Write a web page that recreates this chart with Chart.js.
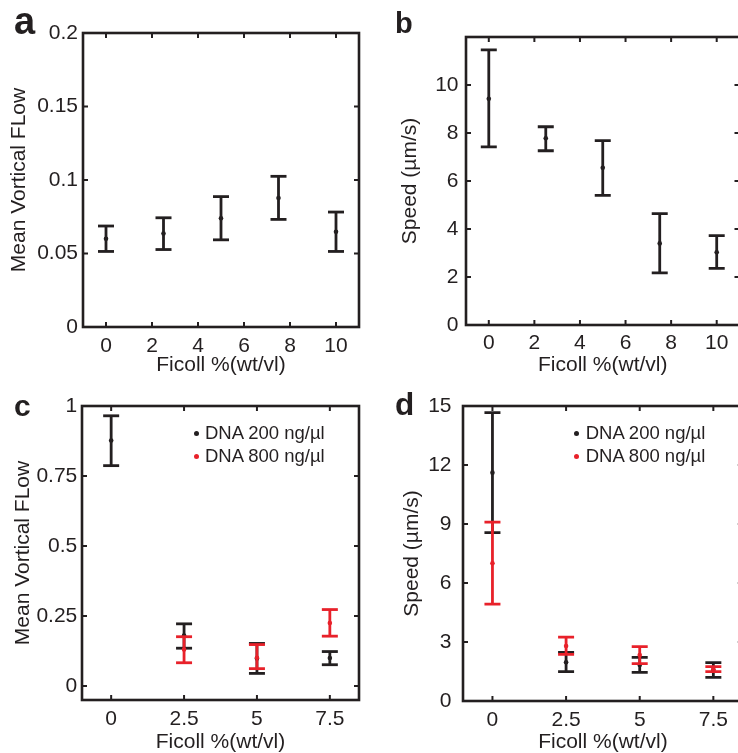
<!DOCTYPE html>
<html>
<head>
<meta charset="utf-8">
<script src="https://cdn.jsdelivr.net/npm/chart.js@4.4.1/dist/chart.umd.min.js"></script>
<style>
  html, body { margin: 0; padding: 0; background: #fff; overflow: hidden; }
  body { width: 738px; height: 753px; position: relative; font-family: 'Liberation Sans', Arial, sans-serif; color: #231f20; }
  canvas { position: absolute; }
  .tag { position: absolute; font-weight: bold; line-height: 1; }
  .key { position: absolute; font-size: 18.5px; line-height: 22.7px; white-space: nowrap; }
  .dot { position: absolute; width: 5px; height: 5px; border-radius: 50%; }
</style>
</head>
<body>
<canvas id="chartA" width="369" height="376" style="left:0;top:0"></canvas>
<canvas id="chartB" width="372" height="376" style="left:369px;top:0"></canvas>
<canvas id="chartC" width="369" height="377" style="left:0;top:376px"></canvas>
<canvas id="chartD" width="376" height="377" style="left:369px;top:376px"></canvas>

<div class="tag" style="left:14px;top:2px;font-size:38px">a</div>
<div class="tag" style="left:395px;top:9px;font-size:29px">b</div>
<div class="tag" style="left:14px;top:391px;font-size:30px">c</div>
<div class="tag" style="left:395px;top:389px;font-size:31.5px">d</div>

<div id="legendC"></div>
<div id="legendD"></div>

<script>
const INK = "#231f20";
const RED = "#e8212a";

// panel a / b : Ficoll only
const ficollAB = [0, 2.5, 5, 7.5, 10];
const flowA = [0.0600, 0.0636, 0.0739, 0.0878, 0.0648];
const flowALow = [0.0514, 0.0527, 0.0593, 0.0732, 0.0514];
const flowAHigh = [0.0687, 0.0743, 0.0887, 0.1025, 0.0782];

const speedB = [9.43, 7.78, 6.55, 3.40, 3.03];
const speedBLow = [7.42, 7.26, 5.40, 2.17, 2.36];
const speedBHigh = [11.46, 8.26, 7.68, 4.64, 3.72];

// panel c / d : Ficoll + DNA
const ficollCD = [0, 2.5, 5, 7.5];
const flowC200 = [0.877, 0.180, 0.098, 0.100];
const flowC200Low = [0.787, 0.135, 0.045, 0.076];
const flowC200High = [0.965, 0.222, 0.152, 0.123];
const flowC800 = [null, 0.130, 0.101, 0.225];
const flowC800Low = [null, 0.083, 0.062, 0.178];
const flowC800High = [null, 0.176, 0.148, 0.273];

const speedD200 = [11.61, 1.97, 1.83, 1.57];
const speedD200Low = [8.56, 1.49, 1.46, 1.20];
const speedD200High = [14.66, 2.47, 2.22, 1.95];
const speedD800 = [7.00, 2.80, 2.34, 1.62];
const speedD800Low = [4.93, 2.37, 1.90, 1.49];
const speedD800High = [9.10, 3.25, 2.76, 1.75];

const legendLabels = ["DNA 200 ng/\u00b5l", "DNA 800 ng/\u00b5l"];

// tick labels
const xTicksAB = [0, 2, 4, 6, 8, 10];
const xTicksCD = [0, 2.5, 5, 7.5];
const yTicksA = [0, 0.05, 0.1, 0.15, 0.2];
const yTicksB = [0, 2, 4, 6, 8, 10];
const yTicksC = [0, 0.25, 0.5, 0.75, 1];
const yTicksD = [0, 3, 6, 9, 12, 15];

const xTitle = "Ficoll %(wt/vl)";
const flowTitle = "Mean Vortical FLow";
const speedTitle = "Speed (\u00b5m/s)";

Chart.defaults.font.family = "'Liberation Sans', Arial, sans-serif";
Chart.defaults.color = INK;

// box round the plot plus inward ticks on all four sides
const framePlugin = {
    id: "frame",
    afterDatasetsDraw(chart) {
        const { ctx, chartArea: a, scales } = chart;
        const L = 5;
        ctx.save();
        ctx.strokeStyle = INK;
        ctx.lineWidth = 2;
        ctx.beginPath();
        scales.x.ticks.forEach(t => {
            const px = scales.x.getPixelForValue(t.value);
            ctx.moveTo(px, a.bottom); ctx.lineTo(px, a.bottom - L);
            ctx.moveTo(px, a.top); ctx.lineTo(px, a.top + L);
        });
        scales.y.ticks.forEach(t => {
            const py = scales.y.getPixelForValue(t.value);
            ctx.moveTo(a.left, py); ctx.lineTo(a.left + L, py);
            ctx.moveTo(a.right, py); ctx.lineTo(a.right - L, py);
        });
        ctx.stroke();
        ctx.lineWidth = 2.6;
        ctx.strokeRect(a.left, a.top, a.right - a.left, a.bottom - a.top);
        ctx.restore();
    }
};

function errorBars(xs, lo, hi, color) {
    const pts = [];
    xs.forEach((x, i) => {
        if (lo[i] == null) return;
        pts.push({ x: x, y: lo[i] }, { x: x, y: hi[i] }, { x: x, y: null });
    });
    return {
        data: pts,
        showLine: true,
        spanGaps: false,
        borderColor: color,
        borderWidth: 2.8,
        pointStyle: "line",
        pointRadius: 8,
        pointBorderColor: color,
        pointBorderWidth: 2.8,
    };
}

function means(xs, ys, color) {
    return {
        data: xs.map((x, i) => ({ x: x, y: ys[i] })).filter(p => p.y != null),
        showLine: false,
        pointStyle: "circle",
        pointRadius: 2.3,
        pointBorderWidth: 0,
        pointBackgroundColor: color,
    };
}

function makeChart(id, p) {
    const ctx = document.getElementById(id).getContext("2d");
    return new Chart(ctx, {
        type: "scatter",
        data: { datasets: p.datasets },
        options: {
            responsive: false,
            animation: false,
            events: [],
            layout: { autoPadding: false, padding: { top: p.top, right: p.right, left: 0, bottom: 0 } },
            plugins: { legend: { display: false }, tooltip: { enabled: false } },
            scales: {
                x: {
                    type: "linear",
                    min: p.xMin, max: p.xMax,
                    grid: { display: false, drawTicks: false },
                    border: { display: false },
                    afterBuildTicks: s => { s.ticks = p.xTicks.map(v => ({ value: v })); },
                    afterFit: s => { s.height = p.xHeight; },
                    ticks: { padding: p.xPad, maxRotation: 0, font: { size: 21 }, callback: v => String(v) },
                    title: { display: true, text: xTitle, font: { size: 21, lineHeight: 1 }, padding: { top: p.xTitlePad, bottom: 0 } },
                },
                y: {
                    type: "linear",
                    min: p.yMin, max: p.yMax,
                    grid: { display: false, drawTicks: false },
                    border: { display: false },
                    afterBuildTicks: s => { s.ticks = p.yTicks.map(v => ({ value: v })); },
                    afterFit: s => { s.width = p.yWidth; },
                    ticks: { padding: p.yPad, font: { size: 21 }, callback: v => String(v) },
                    title: { display: true, text: p.yTitle, font: { size: 21, lineHeight: 1 }, padding: { top: p.yTitlePad, bottom: 0 } },
                },
            },
        },
        plugins: [framePlugin],
    });
}

makeChart("chartA", {
    datasets: [errorBars(ficollAB, flowALow, flowAHigh, INK), means(ficollAB, flowA, INK)],
    xMin: -1, xMax: 11, yMin: 0, yMax: 0.2,
    xTicks: xTicksAB, yTicks: yTicksA, yTitle: flowTitle,
    top: 33, right: 10, xHeight: 49, yWidth: 83,
    xPad: 7, xTitlePad: 0, yPad: 5, yTitlePad: 8.5,
});

makeChart("chartB", {
    datasets: [errorBars(ficollAB, speedBLow, speedBHigh, INK), means(ficollAB, speedB, INK)],
    xMin: -1, xMax: 11, yMin: 0, yMax: 12,
    xTicks: xTicksAB, yTicks: yTicksB, yTitle: speedTitle,
    top: 37, right: 1.5, xHeight: 51, yWidth: 97,
    xPad: 5.7, xTitlePad: 2.8, yPad: 7.5, yTitlePad: 30.5,
});

makeChart("chartC", {
    datasets: [
        errorBars(ficollCD, flowC800Low, flowC800High, RED), means(ficollCD, flowC800, RED),
        errorBars(ficollCD, flowC200Low, flowC200High, INK), means(ficollCD, flowC200, INK),
    ],
    xMin: -1, xMax: 8.5, yMin: -0.05, yMax: 1,
    xTicks: xTicksCD, yTicks: yTicksC, yTitle: flowTitle,
    top: 30, right: 10, xHeight: 53, yWidth: 82,
    xPad: 6.7, xTitlePad: 3.2, yPad: 4.7, yTitlePad: 13,
});

makeChart("chartD", {
    datasets: [
        errorBars(ficollCD, speedD800Low, speedD800High, RED), means(ficollCD, speedD800, RED),
        errorBars(ficollCD, speedD200Low, speedD200High, INK), means(ficollCD, speedD200, INK),
    ],
    xMin: -1, xMax: 8.5, yMin: 0, yMax: 15,
    xTicks: xTicksCD, yTicks: yTicksD, yTitle: speedTitle,
    top: 30, right: 2.2, xHeight: 52, yWidth: 94,
    xPad: 6.4, xTitlePad: 2.3, yPad: 11.5, yTitlePad: 32.5,
});

// legends, as plain text next to the dots
function legend(holderId, dotX, textX, rowY) {
    const holder = document.getElementById(holderId);
    [INK, RED].forEach((c, i) => {
        const y = rowY + i * 22.7;
        const dot = document.createElement("div");
        dot.className = "dot";
        dot.style.background = c;
        dot.style.left = (dotX - 2.5) + "px";
        dot.style.top = (y - 2.5) + "px";
        holder.appendChild(dot);
        const key = document.createElement("div");
        key.className = "key";
        key.textContent = legendLabels[i];
        key.style.left = textX + "px";
        key.style.top = (y - 11.35) + "px";
        holder.appendChild(key);
    });
}
legend("legendC", 196, 205, 433.3);
legend("legendD", 576.3, 585.7, 433.3);
</script>
</body>
</html>
